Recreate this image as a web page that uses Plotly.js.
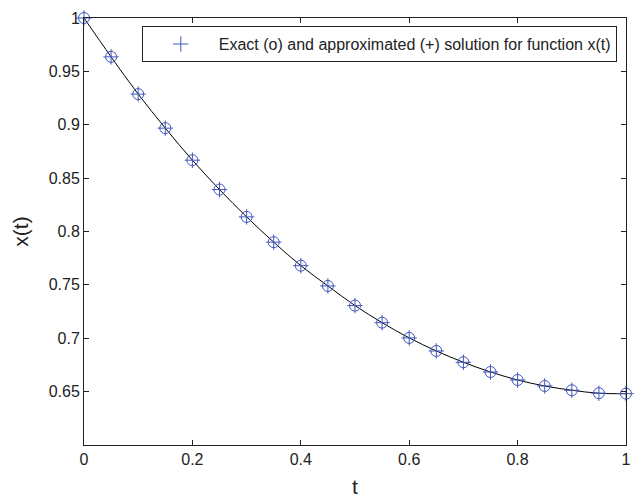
<!DOCTYPE html>
<html>
<head>
<meta charset="utf-8">
<script src="https://cdn.plot.ly/plotly-3.0.1.min.js"></script>
<style>html,body{margin:0;padding:0;background:#fff;}#chart{width:635px;height:499px;}</style>
</head>
<body>
<div id="chart"></div>
<script>
const tValues = [0, 0.05, 0.1, 0.15, 0.2, 0.25, 0.3, 0.35, 0.4, 0.45, 0.5, 0.55, 0.6, 0.65, 0.7, 0.75, 0.8, 0.85, 0.9, 0.95, 1.0];
const exactValues = [1.0, 0.9636, 0.9287, 0.8968, 0.8668, 0.8393, 0.8137, 0.7900, 0.7680, 0.7490, 0.7306, 0.7146, 0.7003, 0.6881, 0.6775, 0.6684, 0.6609, 0.6553, 0.6513, 0.6485, 0.6481];
const approxValues = [1.0, 0.9636, 0.9287, 0.8968, 0.8668, 0.8393, 0.8137, 0.7900, 0.7680, 0.7490, 0.7306, 0.7146, 0.7003, 0.6881, 0.6775, 0.6684, 0.6609, 0.6553, 0.6513, 0.6485, 0.6481];
const xTickVals = [0, 0.2, 0.4, 0.6, 0.8, 1];
const xTickText = ['0', '0.2', '0.4', '0.6', '0.8', '1'];
const yTickVals = [0.6, 0.65, 0.7, 0.75, 0.8, 0.85, 0.9, 0.95, 1];
const yTickText = ['', '0.65', '0.7', '0.75', '0.8', '0.85', '0.9', '0.95', '1'];
const legendText = 'Exact (o) and approximated (+) solution for function x(t)';

const blue = '#4157bd';
const fontFam = 'Liberation Sans, Arial, sans-serif';
const traces = [
  {x: tValues, y: exactValues, mode: 'lines', line: {color: '#000', width: 1, shape: 'spline'}, showlegend: false, cliponaxis: false},
  {x: tValues, y: exactValues, mode: 'markers', marker: {symbol: 'circle-open', size: 11, color: blue, line: {width: 1, color: blue}}, showlegend: false, cliponaxis: false},
  {x: tValues, y: approxValues, mode: 'markers', name: legendText, marker: {symbol: 'cross-thin-open', size: 11, color: blue, line: {width: 1, color: blue}}, cliponaxis: false}
];
const axisCommon = {
  showgrid: false, zeroline: false, showline: true, mirror: 'ticks', linecolor: '#222', linewidth: 1,
  ticks: 'inside', ticklen: 5, tickcolor: '#222', tickwidth: 1,
  tickfont: {family: fontFam, size: 16, color: '#222'}
};
const layout = {
  width: 635, height: 499,
  margin: {l: 84, r: 9, t: 18, b: 54},
  paper_bgcolor: '#fff', plot_bgcolor: '#fff',
  xaxis: Object.assign({}, axisCommon, {range: [0, 1], tickmode: 'array', tickvals: xTickVals, ticktext: xTickText,
    title: {text: 't', font: {family: fontFam, size: 21, color: '#222'}, standoff: 12}}),
  yaxis: Object.assign({}, axisCommon, {range: [0.6, 1], tickmode: 'array', tickvals: yTickVals, ticktext: yTickText,
    title: {text: 'x(t)', font: {family: fontFam, size: 21, color: '#222'}, standoff: 14}}),
  legend: {x: 0.983, xanchor: 'right', y: 0.981, yanchor: 'top', bgcolor: '#fff', bordercolor: '#222', borderwidth: 1,
    font: {family: fontFam, size: 16, color: '#222'}, itemwidth: 66, tracegroupgap: 0},
  showlegend: true
};
Plotly.newPlot('chart', traces, layout, {displayModeBar: false, staticPlot: true});
</script>
</body>
</html>
